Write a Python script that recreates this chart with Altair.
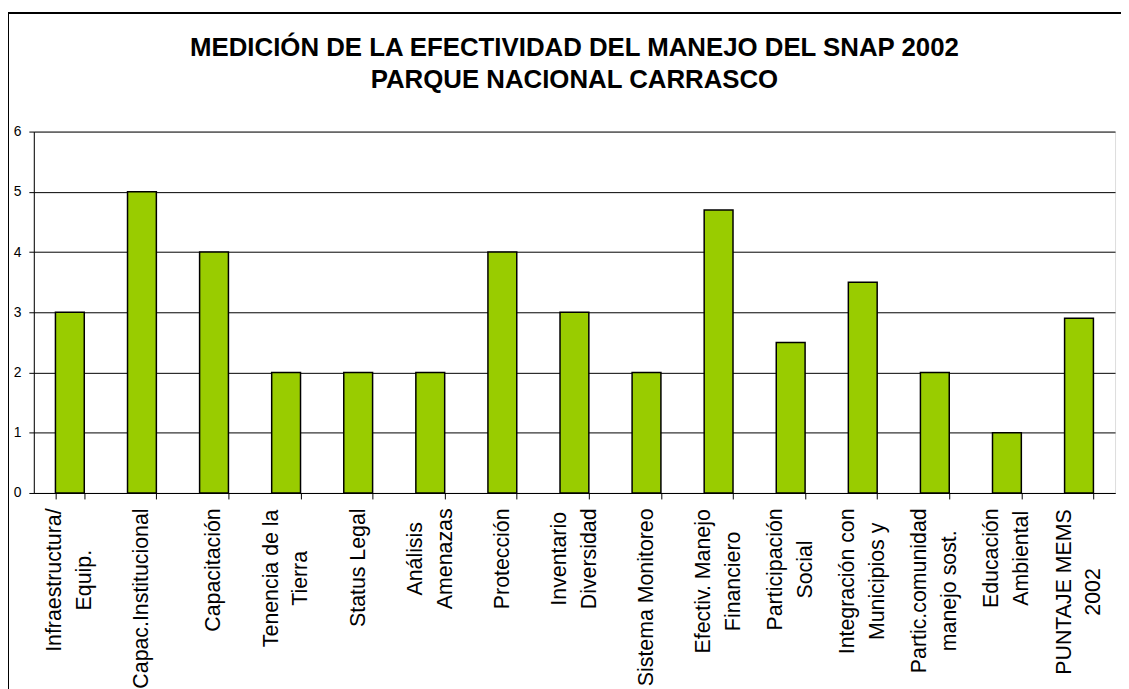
import altair as alt
import pandas as pd

categories = [
    "Infraestructura/\nEquip.",
    "Capac.Institucional",
    "Capacitación",
    "Tenencia de la\nTierra",
    "Status Legal",
    "Análisis\nAmenazas",
    "Protección",
    "Inventario\nDiversidad",
    "Sistema Monitoreo",
    "Efectiv. Manejo\nFinanciero",
    "Participación\nSocial",
    "Integración con\nMunicipios y",
    "Partic.comunidad\nmanejo sost.",
    "Educación\nAmbiental",
    "PUNTAJE MEMS\n2002",
]
values = [3, 5, 4, 2, 2, 2, 4, 3, 2, 4.7, 2.5, 3.5, 2, 1, 2.9]
y_ticks = [0, 1, 2, 3, 4, 5, 6]

df = pd.DataFrame({"cat": categories, "val": values})

FONT = "Liberation Sans"
LABEL_SIZE = 21.5
LINE_H = 30

# Arial / Liberation Sans advance widths (per 1000 em) used to centre
# multi-line rotated labels like the original (lines centred on each other,
# block starting just under the ticks).
W = {
    " ": 278, ".": 278, "/": 278, "0": 556, "2": 556,
    "A": 667, "C": 722, "D": 722, "E": 667, "F": 611, "I": 278, "J": 500,
    "L": 556, "M": 833, "N": 722, "P": 667, "S": 667, "T": 611, "U": 722,
    "a": 556, "b": 556, "c": 500, "d": 556, "e": 556, "f": 278, "g": 556,
    "i": 222, "j": 222, "l": 222, "m": 833, "n": 556, "o": 556, "p": 556,
    "q": 556, "r": 333, "s": 500, "t": 278, "u": 556, "v": 500, "y": 500,
    "z": 500, "á": 556, "ó": 556, "í": 222, "é": 556,
}


def text_w(s):
    return sum(W.get(ch, 556) for ch in s) * LABEL_SIZE / 1000.0


pad_conditions = []
off_conditions = []
for c in categories:
    lines = c.split("\n")
    longest = max(text_w(l) for l in lines)
    esc = c.replace("\\", "\\\\").replace("'", "\\'").replace("\n", "\\n")
    t = "datum.value === '" + esc + "'"
    pad_conditions.append({"test": t, "value": round(9 + longest / 2, 1)})
    if len(lines) > 1:
        off_conditions.append({"test": t, "value": -(len(lines) - 1) * LINE_H / 2})

bars = alt.Chart(df).mark_bar(
    color="#99CC00", stroke="black", strokeWidth=1.5
).encode(
    x=alt.X(
        "cat:N",
        sort=categories,
        title=None,
        scale=alt.Scale(paddingInner=0.6, paddingOuter=0.3),
        axis=alt.Axis(
            labelAngle=270,
            labelAlign="center",
            labelBaseline="middle",
            labelExpr="split(datum.label, '\\n')",
            labelFont=FONT,
            labelFontSize=LABEL_SIZE,
            labelLineHeight=LINE_H,
            labelColor="black",
            labelPadding={"condition": pad_conditions, "value": 9},
            labelOffset={"condition": off_conditions, "value": 0},
            labelLimit=400,
            labelOverlap=False,
            tickBand="extent",
            tickColor="black",
            tickSize=6,
            domainColor="black",
            domainWidth=1,
        ),
    ),
    y=alt.Y(
        "val:Q",
        title=None,
        scale=alt.Scale(domain=[0, 6], nice=False),
        axis=alt.Axis(
            values=y_ticks,
            labelFont=FONT,
            labelFontSize=14,
            labelColor="black",
            labelPadding=8,
            tickColor="black",
            tickSize=5,
            domainColor="black",
            gridColor="black",
            gridWidth=1,
            gridOpacity=1,
        ),
    ),
)

frame_top = alt.Chart(df).mark_rule(color="black", strokeWidth=1).encode(
    x=alt.value(-26), x2=alt.value(1100), y=alt.value(-119.5)
)
frame_left = alt.Chart(df).mark_rule(color="black", strokeWidth=1).encode(
    x=alt.value(-25.5), y=alt.value(-120), y2=alt.value(600)
)

chart = alt.layer(bars, frame_top, frame_left).properties(
    width=1089,
    height=364,
    title=alt.TitleParams(
        text=[
            "MEDICIÓN DE LA EFECTIVIDAD DEL MANEJO DEL SNAP 2002",
            "PARQUE NACIONAL CARRASCO",
        ],
        font=FONT,
        fontSize=26,
        fontWeight="bold",
        color="black",
        anchor="middle",
        frame="group",
        lineHeight=33,
        offset=-82,
    ),
    autosize=alt.AutoSizeParams(type="none"),
    padding={"left": 26, "top": 122, "right": 6, "bottom": 200},
).configure_view(
    fill="#C0C0C0", stroke="#808080", strokeWidth=1
).configure(background="white")

chart.save("out.html", embed_options={"renderer": "svg", "actions": False})
